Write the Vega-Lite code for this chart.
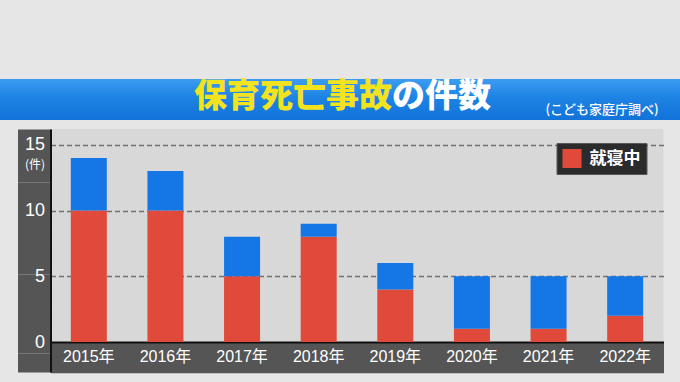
{
  "$schema": "https://vega.github.io/schema/vega-lite/v6.json",
  "background": "#e6e6e6",
  "padding": {"left": 0, "top": 79, "right": 0, "bottom": 10},
  "config": {"font": "Noto Sans CJK JP", "view": {"stroke": null}},
  "center": true,
  "spacing": 6,
  "resolve": {"legend": {"color": "independent"}},
  "vconcat": [
    {
      "width": 714,
      "height": 41,
      "data": {"values": [{"a": 1}]},
      "layer": [
        {
          "mark": {
            "type": "rect",
            "color": {
              "gradient": "linear",
              "x1": 0, "y1": 0, "x2": 0, "y2": 1,
              "stops": [
                {"offset": 0, "color": "#3b9cf0"},
                {"offset": 0.45, "color": "#1d83e4"},
                {"offset": 1, "color": "#1272d8"}
              ]
            }
          },
          "encoding": {}
        },
        {
          "mark": {"type": "text", "text": "保育死亡事故", "align": "right", "baseline": "middle", "dx": 35, "dy": -3, "fontSize": 33, "fontWeight": 900, "color": "#f3e31e"},
          "encoding": {}
        },
        {
          "mark": {"type": "text", "text": "の件数", "align": "left", "baseline": "middle", "dx": 35, "dy": -3, "fontSize": 33, "fontWeight": 900, "color": "#ffffff"},
          "encoding": {}
        },
        {
          "mark": {"type": "text", "text": "(こども家庭庁調べ)", "align": "center", "baseline": "middle", "dx": 245, "dy": 10, "fontSize": 13, "fontWeight": 500, "color": "#ffffff"},
          "encoding": {}
        }
      ]
    },
    {
      "width": 613,
      "height": 243,
      "view": {"fill": "#d8d8d8", "stroke": null},
      "data": {
        "values": [
          {"year": "2015年", "type": "就寝中", "count": 10},
          {"year": "2015年", "type": "その他", "count": 4},
          {"year": "2016年", "type": "就寝中", "count": 10},
          {"year": "2016年", "type": "その他", "count": 3},
          {"year": "2017年", "type": "就寝中", "count": 5},
          {"year": "2017年", "type": "その他", "count": 3},
          {"year": "2018年", "type": "就寝中", "count": 8},
          {"year": "2018年", "type": "その他", "count": 1},
          {"year": "2019年", "type": "就寝中", "count": 4},
          {"year": "2019年", "type": "その他", "count": 2},
          {"year": "2020年", "type": "就寝中", "count": 1},
          {"year": "2020年", "type": "その他", "count": 4},
          {"year": "2021年", "type": "就寝中", "count": 1},
          {"year": "2021年", "type": "その他", "count": 4},
          {"year": "2022年", "type": "就寝中", "count": 2},
          {"year": "2022年", "type": "その他", "count": 3}
        ]
      },
      "mark": {"type": "bar"},
      "encoding": {
        "x": {
          "field": "year",
          "type": "ordinal",
          "scale": {"paddingInner": 0.53, "paddingOuter": 0.265},
          "axis": {
            "title": null,
            "orient": "bottom",
            "zindex": 1,
            "domain": false,
            "ticks": false,
            "grid": false,
            "labelAngle": 0,
            "labelPadding": -15.5,
            "labelBaseline": "middle",
            "labelColor": "#ffffff",
            "labelFont": "Liberation Sans, Noto Sans CJK JP",
            "labelFontSize": 16,
            "minExtent": 0
          }
        },
        "y": {
          "field": "count",
          "type": "quantitative",
          "stack": "zero",
          "scale": {"domain": [-2.28, 16.2], "nice": false, "zero": false},
          "axis": {
            "values": [-0.569, -1.71, 15.668, 14.668, 13.668, 12.668, 11.668, 10.668, 9.668, 8.668, 7.668, 6.668, 5.668, 4.668, 3.668, 2.668, 1.668, 0.668, -0.332, -1.332, -1.748, 0, 5, 10, 15],
            "minExtent": 50,
            "labelOverlap": false,
            "domain": true,
            "domainColor": "#111111",
            "domainWidth": 2,
            "ticks": true,
            "tickSize": 33,
            "tickCap": "butt",
            "tickColor": {"condition": {"test": "datum.value !== round(datum.value) && datum.value !== -0.569 && datum.value !== -1.71", "value": "#555555"}, "value": "transparent"},
            "tickWidth": {"condition": {"test": "datum.value !== round(datum.value) && datum.value !== -0.569 && datum.value !== -1.71", "value": 14}, "value": 1},
            "labelExpr": "(datum.value === 0 || datum.value === 5 || datum.value === 10 || datum.value === 15) ? datum.label : ''",
            "labelColor": "#ffffff",
            "labelFont": "Liberation Sans",
            "labelFontSize": 18,
            "labelPadding": -27,
            "grid": true,
            "gridCap": "butt",
            "gridColor": {"condition": [
              {"test": "datum.value === -0.569 || datum.value === -1.71", "value": "#555555"},
              {"test": "datum.value !== round(datum.value)", "value": "transparent"},
              {"test": "datum.value === 0", "value": "#111111"}
            ], "value": "#707070"},
            "gridDash": {"condition": {"test": "datum.value <= 0", "value": []}, "value": [5, 3]},
            "gridWidth": {"condition": [
              {"test": "datum.value === -0.569 || datum.value === -1.71", "value": 15.5},
              {"test": "datum.value === 0", "value": 2}
            ], "value": 1.5},
            "title": "(件)",
            "titleColor": "#ffffff",
            "titleFontSize": 12,
            "titleFontWeight": "normal",
            "titleAngle": 0,
            "titleAlign": "center",
            "titleBaseline": "middle",
            "titleX": -16,
            "titleY": 35
          }
        },
        "color": {
          "field": "type",
          "type": "nominal",
          "scale": {"domain": ["就寝中", "その他"], "range": ["#e04a3b", "#1577e6"]},
          "legend": {
            "values": ["就寝中"],
            "title": null,
            "orient": "none",
            "legendX": 506,
            "legendY": 14,
            "fillColor": "#2b2b2b",
            "strokeColor": "#5a5a5a",
            "padding": 6,
            "symbolType": "square",
            "symbolSize": 361,
            "symbolStrokeWidth": 0,
            "symbolOpacity": 1,
            "labelColor": "#ffffff",
            "labelFontSize": 17,
            "labelFontWeight": "bold",
            "labelOffset": 8
          }
        },
        "order": {"field": "type", "sort": "descending"}
      }
    }
  ]
}
